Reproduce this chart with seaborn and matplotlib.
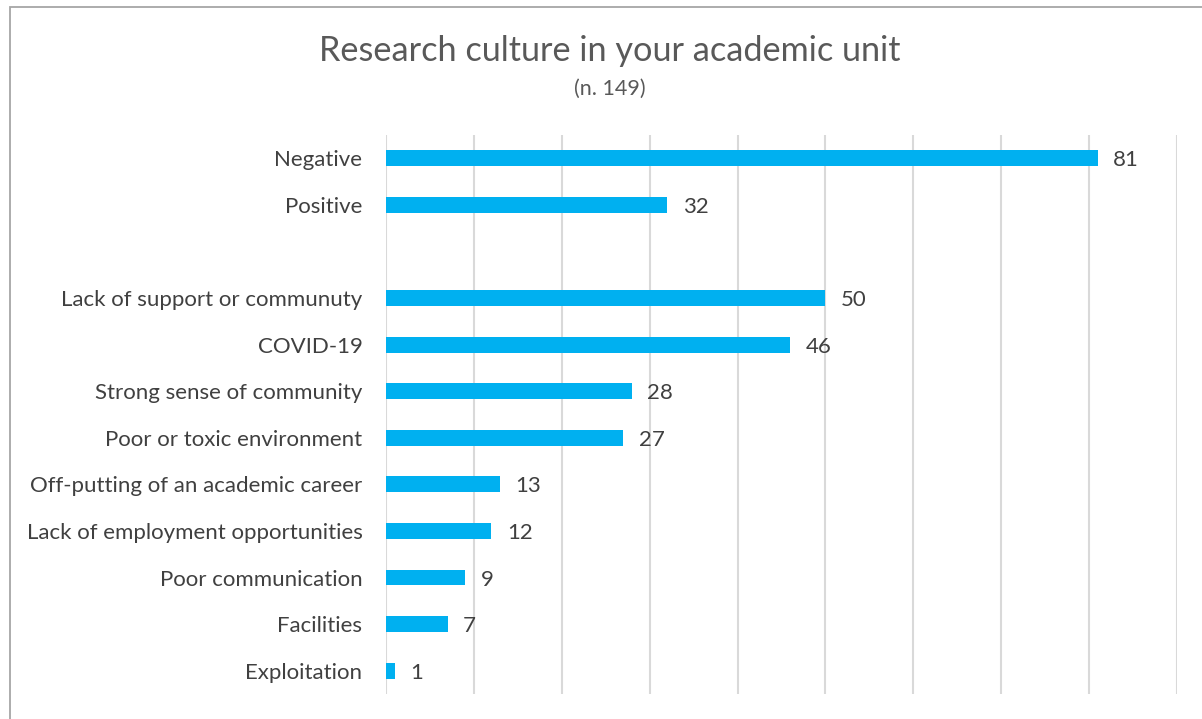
import matplotlib
matplotlib.use("Agg")
import matplotlib.pyplot as plt
import seaborn as sns
import pandas as pd
from matplotlib.patches import Rectangle

categories = ["Negative", "Positive", " ",
              "Lack of support or communuty", "COVID-19", "Strong sense of community",
              "Poor or toxic environment", "Off-putting of an academic career",
              "Lack of employment opportunities", "Poor communication",
              "Facilities", "Exploitation"]
values = [81, 32, 0, 50, 46, 28, 27, 13, 12, 9, 7, 1]
value_labels = ["81", "32", "", "50", "46", "28", "27", "13", "12", "9", "7", "1"]
x_ticks = [0, 10, 20, 30, 40, 50, 60, 70, 80, 90]

sns.set_theme(style="white")
plt.rcParams['font.family'] = ['Lato', 'DejaVu Sans']

df = pd.DataFrame({"cat": categories, "val": values})

fig = plt.figure(figsize=(12.02, 7.19), dpi=100)
ax = fig.add_axes([386/1202, 1-694/719, (1177-386)/1202, (694-135)/719])

sns.barplot(data=df, y="cat", x="val", order=categories, orient="h",
            color="#00B0F0", saturation=1, width=0.34, linewidth=0, ax=ax)

ax.set_xlim(0, 90)
ax.set_ylim(11.5, -0.5)
ax.set_xticks(x_ticks)
ax.set_xticklabels([])
ax.tick_params(axis="x", length=0)
ax.tick_params(axis="y", length=0, pad=17, labelsize=16, labelcolor="#404040")
ax.grid(axis="x", color="#D9D9D9", linewidth=1.5)
ax.set_axisbelow(True)
for s in ax.spines.values():
    s.set_visible(False)
ax.set_xlabel("")
ax.set_ylabel("")

anns = ax.bar_label(ax.containers[0], labels=value_labels, padding=11,
                    fontsize=16, color="#404040")
for a in anns:
    a.xyann = (11, -1.5)

fig.text(0.507, 1-51/719, "Research culture in your academic unit", ha="center",
         va="center", fontsize=24.7, color="#595959")
fig.text(0.507, 1-89/719, "(n. 149)", ha="center", va="center",
         fontsize=15.5, color="#595959")

fig.patches.append(Rectangle((10/1202, -0.1), 1.2, 1-7/719+0.1,
                             transform=fig.transFigure, fill=False,
                             edgecolor="#A6A6A6", linewidth=1.3))

fig.savefig("out.png", dpi=100)
